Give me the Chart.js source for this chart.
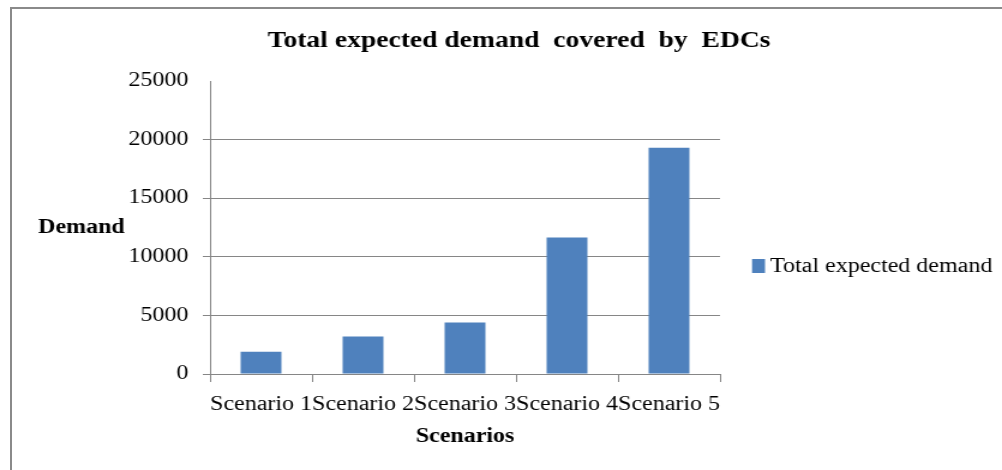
<!DOCTYPE html>
<html>
<head>
<meta charset="utf-8">
<script src="https://cdn.jsdelivr.net/npm/chart.js@4/dist/chart.umd.min.js"></script>
<style>
  html, body { margin: 0; padding: 0; background: #fff; }
  body { width: 1002px; height: 470px; position: relative; overflow: hidden; }
  #frame {
    position: absolute; left: 10px; top: 7px; width: 1000px; height: 470px;
    border-left: 2px solid #8a8a8a; border-top: 2px solid #8a8a8a;
  }
  /* the reference is drawn a bit wider than tall, so stretch it sideways */
  #wrap {
    position: absolute; left: 0; top: 0; width: 835px; height: 470px;
    transform: scaleX(1.2); transform-origin: 0 0;
  }
</style>
</head>
<body>
<div id="frame"></div>
<div id="wrap"><canvas id="chart" width="835" height="470"></canvas></div>
<script>
// Data
const categories = ['Scenario 1', 'Scenario 2', 'Scenario 3', 'Scenario 4', 'Scenario 5'];
const demandValues = [1900, 3200, 4400, 11650, 19300];
const seriesName = 'Total expected demand';
const yMax = 25000;
const yStep = 5000;

const titleText = 'Total expected demand  covered  by  EDCs';
const yTitle = 'Demand';
const xTitle = 'Scenarios';

const barColor = '#4F81BD';
const lineGray = '#868686';
const serif = '"Liberation Serif", "Times New Roman", serif';

// Draw title, horizontal y title and legend
const extraText = {
    id: 'extraText',
    afterDraw(chart) {
        const ctx = chart.ctx;
        const area = chart.chartArea;
        ctx.save();
        ctx.fillStyle = '#000';
        ctx.textBaseline = 'middle';

        ctx.font = 'bold 23px ' + serif;
        ctx.textAlign = 'center';
        ctx.fillText(titleText, 432.5, 41);

        ctx.font = 'bold 20px ' + serif;
        ctx.textAlign = 'left';
        ctx.fillText(yTitle, 31.7, 228);

        // legend
        const lx = area.right + 26.7;
        ctx.fillStyle = chart.data.datasets[0].backgroundColor;
        ctx.fillRect(lx, 259, 10.8, 14);
        ctx.fillStyle = '#000';
        ctx.font = '20px ' + serif;
        ctx.fillText(chart.data.datasets[0].label, lx + 15, 267);
        ctx.restore();
    }
};

const chart = new Chart(document.getElementById('chart'), {
    type: 'bar',
    data: {
        labels: categories,
        datasets: [
            {
                label: seriesName,
                data: demandValues,
                backgroundColor: barColor,
                borderWidth: 0,
                barPercentage: 0.4,
                categoryPercentage: 1,
            },
        ],
    },
    options: {
        responsive: false,
        animation: false,
        devicePixelRatio: 1,
        layout: {
            padding: { top: 81, left: 0, right: 235, bottom: 0 },
        },
        plugins: {
            legend: { display: false },
            title: { display: false },
            tooltip: { enabled: false },
        },
        scales: {
            x: {
                afterFit: (scale) => { scale.height = 96; },
                grid: {
                    drawOnChartArea: false,
                    color: lineGray,
                    tickLength: 8,
                },
                border: { color: lineGray, width: 1 },
                ticks: {
                    color: '#000',
                    padding: 11,
                    autoSkip: false,
                    maxRotation: 0,
                    font: { family: serif, size: 20 },
                },
                title: {
                    display: true,
                    text: xTitle,
                    color: '#000',
                    padding: { top: 0, bottom: 21 },
                    font: { family: serif, size: 20, weight: 'bold' },
                },
            },
            y: {
                min: 0,
                max: yMax,
                afterFit: (scale) => { scale.width = 175; },
                grid: {
                    color: (c) => (c.tick && c.tick.value === yMax ? 'rgba(0,0,0,0)' : lineGray),
                    tickLength: 6,
                },
                border: { color: lineGray, width: 1 },
                ticks: {
                    stepSize: yStep,
                    color: '#000',
                    padding: 12,
                    callback: (value) => String(value),
                    font: { family: serif, size: 20 },
                },
            },
        },
    },
    plugins: [extraText],
});
</script>
</body>
</html>
